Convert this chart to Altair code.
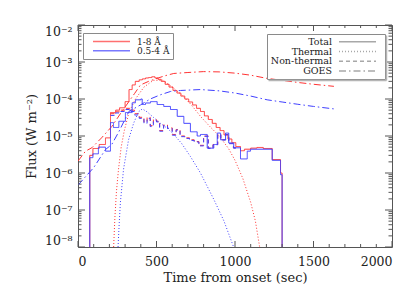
import altair as alt
import pandas as pd

# ---------------- data ----------------
red_total_t = [75, 75, 95, 135, 175, 207, 240, 265, 300, 325, 345, 365, 390, 410, 430, 450, 470, 490, 510,
               530, 555, 580, 605, 630, 655, 680, 705, 730, 755, 780, 805, 830, 855, 880, 905, 930, 955,
               980, 1005, 1035, 1060, 1100, 1140, 1180, 1237, 1290, 1300]
red_total_f = [1e-8, 3.0e-6, 4.6e-6, 5.9e-6, 8.9e-6, 4.3e-5, 5.0e-5, 5.8e-5, 8.5e-5, 1.8e-4, 2.4e-4, 3.0e-4,
               3.3e-4, 3.5e-4, 3.7e-4, 3.8e-4, 4.0e-4, 3.7e-4, 3.4e-4, 3.0e-4, 2.5e-4, 2.1e-4, 1.7e-4,
               1.45e-4, 1.2e-4, 1.0e-4, 8.3e-5, 6.9e-5, 5.6e-5, 4.6e-5, 3.5e-5, 2.8e-5, 2.2e-5, 1.7e-5,
               1.4e-5, 1.07e-5, 8.3e-6, 6.6e-6, 5.2e-6, 4.0e-6, 4.4e-6, 4.7e-6, 4.9e-6, 4.6e-6, 2.3e-6,
               1.0e-6, 1e-8]

blue_total_t = [75, 75, 95, 130, 175, 207, 226, 260, 302, 345, 366, 400, 409, 430, 462, 504, 546, 589, 632,
                674, 716, 759, 780, 823, 865, 887, 908, 940, 960, 992, 1035, 1078, 1099, 1237, 1290, 1300]
blue_total_f = [1e-8, 2.6e-6, 3.3e-6, 5.0e-6, 3.9e-6, 2.3e-5, 1.7e-5, 2.5e-5, 4.3e-5, 7.9e-5, 9.5e-5, 1.0e-4,
                7.1e-5, 7.8e-5, 8.5e-5, 7.1e-5, 6.3e-5, 5.2e-5, 3.4e-5, 2.2e-5, 1.3e-5, 1.0e-5, 1.1e-5,
                4.7e-6, 5.9e-6, 1.2e-5, 7.9e-6, 1.2e-5, 6.5e-6, 4.8e-6, 2.4e-6, 3.9e-6, 4.4e-6, 2.2e-6,
                9.0e-7, 1e-8]

nt_t = [207, 240, 270, 300, 330, 360, 390, 420, 440, 460, 480, 500, 520, 545, 570, 600, 625, 650, 680,
        710, 740, 770, 800, 830, 860, 890, 910, 940, 960, 990, 1010]
red_nt_f = [4.0e-5, 4.5e-5, 5.0e-5, 5.6e-5, 5.0e-5, 4.0e-5, 3.2e-5, 2.4e-5, 3.2e-5, 1.9e-5, 2.8e-5, 2.5e-5,
            1.4e-5, 2.0e-5, 1.66e-5, 1.1e-5, 1.5e-5, 1.0e-5, 8.9e-6, 7.9e-6, 7.1e-6, 5.6e-6, 1.0e-5,
            4.7e-6, 5.9e-6, 1.1e-5, 7.9e-6, 1.1e-5, 6.3e-6, 4.8e-6, 4.8e-6]
blue_nt_f = [3.6e-5, 4.2e-5, 4.6e-5, 5.2e-5, 4.6e-5, 3.7e-5, 3.0e-5, 2.2e-5, 3.0e-5, 1.8e-5, 2.6e-5, 2.4e-5,
             1.35e-5, 1.9e-5, 1.6e-5, 1.05e-5, 1.45e-5, 9.6e-6, 8.6e-6, 7.6e-6, 6.9e-6, 5.4e-6, 9.8e-6,
             4.6e-6, 5.8e-6, 1.08e-5, 7.8e-6, 1.08e-5, 6.2e-6, 4.7e-6, 4.7e-6]

red_th_t = [227, 235, 245, 258, 275, 295, 324, 366, 420, 480, 540, 600, 660, 720, 780, 840, 900, 960,
            1000, 1050, 1100, 1130, 1157]
red_th_f = [1e-8, 6.3e-8, 3.2e-7, 1.26e-6, 5.0e-6, 1.4e-5, 4.3e-5, 1.0e-4, 2.1e-4, 3.2e-4, 3.2e-4, 2.1e-4,
            1.3e-4, 7.1e-5, 3.4e-5, 1.8e-5, 1.0e-5, 4.5e-6, 2.2e-6, 7.1e-7, 1.6e-7, 5.0e-8, 1e-8]

blue_th_t = [255, 262, 270, 290, 322, 354, 385, 410, 440, 480, 525, 570, 610, 660, 716, 780, 866, 930, 991]
blue_th_f = [1e-8, 4.0e-8, 1.6e-7, 1.26e-6, 7.9e-6, 2.2e-5, 4.5e-5, 5.4e-5, 4.5e-5, 3.2e-5, 2.2e-5, 1.6e-5,
             1.1e-5, 6.3e-6, 2.8e-6, 1.0e-6, 1.9e-7, 5.0e-8, 1e-8]

red_goes_t = [0, 48, 88, 150, 215, 270, 324, 360, 398, 450, 494, 550, 610, 700, 800, 900, 1000, 1100,
              1205, 1300, 1400, 1500, 1630]
red_goes_f = [2.1e-6, 3.9e-6, 4.8e-6, 8.9e-6, 1.8e-5, 4.0e-5, 8.5e-5, 1.4e-4, 2.4e-4, 3.0e-4, 3.5e-4,
              4.2e-4, 4.9e-4, 5.2e-4, 5.5e-4, 5.4e-4, 5.0e-4, 4.4e-4, 3.6e-4, 3.2e-4, 2.8e-4, 2.5e-4, 2.2e-4]

blue_goes_t = [0, 100, 175, 215, 260, 324, 398, 460, 525, 590, 653, 780, 900, 1000, 1100, 1205, 1300,
               1400, 1500, 1630]
blue_goes_f = [4.7e-7, 1.4e-6, 4.3e-6, 5.9e-6, 1.3e-5, 4.6e-5, 6.9e-5, 1.0e-4, 1.3e-4, 1.6e-4, 1.7e-4,
               1.8e-4, 1.66e-4, 1.45e-4, 1.2e-4, 9.5e-5, 8.3e-5, 7.2e-5, 6.3e-5, 5.4e-5]

bands = ["1-8 Å", "0.5-4 Å"]
band_colors = ["#ff3333", "#4040ff"]
components = ["Total", "Thermal", "Non-thermal", "GOES"]
dashes = [[1, 0], [1, 2], [4, 3], [7, 3, 1.5, 3]]

x_major = [0, 500, 1000, 1500, 2000]
x_minor = [100, 200, 300, 400, 600, 700, 800, 900, 1100, 1200, 1300, 1400, 1600, 1700, 1800, 1900]
y_major = [1e-8, 1e-7, 1e-6, 1e-5, 1e-4, 1e-3, 1e-2]
y_minor = [m * p for p in [1e-8, 1e-7, 1e-6, 1e-5, 1e-4, 1e-3] for m in [2, 3, 4, 5, 6, 7, 8, 9]]

# ---------------- table ----------------
series = [
    (bands[0], "Total", red_total_t, red_total_f),
    (bands[0], "Non-thermal", nt_t, red_nt_f),
    (bands[0], "Thermal", red_th_t, red_th_f),
    (bands[0], "GOES", red_goes_t, red_goes_f),
    (bands[1], "Total", blue_total_t, blue_total_f),
    (bands[1], "Non-thermal", nt_t, blue_nt_f),
    (bands[1], "Thermal", blue_th_t, blue_th_f),
    (bands[1], "GOES", blue_goes_t, blue_goes_f),
]
rows = []
for band, comp, ts, fs in series:
    for i, (t, f) in enumerate(zip(ts, fs)):
        rows.append({"band": band, "comp": comp, "t": t, "f": f, "i": i})
df = pd.DataFrame(rows)

W, H = 314, 222
FONT = "DejaVu Serif"

xs = alt.Scale(domain=[0, 2000], nice=False, zero=False)
ys = alt.Scale(type="log", domain=[1e-8, 1e-2], nice=False)
sup = "['⁰','¹','²','³','⁴','⁵','⁶','⁷','⁸','⁹']"
xaxis = alt.Axis(values=x_major, format="d", ticks=False, domain=False, grid=False, labelPadding=8,
                 title="Time from onset (sec)", titleY=24, titleBaseline="top")
yaxis = alt.Axis(values=y_major, ticks=False, domain=False, grid=False, labelPadding=6, labelFlush=True,
                 labelExpr="'10⁻' + " + sup + "[round(-log(datum.value)/LN10)]",
                 title="Flux (W m⁻²)", titleX=-40, titleY=H / 2, titleAngle=270, titleBaseline="bottom",
                 titleAlign="center")


def X(field):
    return alt.X(field, type="quantitative", scale=xs, axis=xaxis)


def Y(field):
    return alt.Y(field, type="quantitative", scale=ys, axis=yaxis)


color = alt.Color("band:N", scale=alt.Scale(domain=bands, range=band_colors), legend=None)
dash = alt.StrokeDash("comp:N", scale=alt.Scale(domain=components, range=dashes), legend=None)

layers = []
for band in bands:
    base = alt.Chart(df).transform_filter(alt.datum.band == band)
    layers.append(base.transform_filter(alt.FieldOneOfPredicate(field="comp", oneOf=["Thermal", "GOES"]))
                  .mark_line(clip=True, strokeWidth=1)
                  .encode(x=X("t"), y=Y("f"), color=color, strokeDash=dash, order="i:Q"))
    layers.append(base.transform_filter(alt.FieldOneOfPredicate(field="comp", oneOf=["Non-thermal", "Total"]))
                  .mark_line(clip=True, strokeWidth=1, interpolate="step-after")
                  .encode(x=X("t"), y=Y("f"), color=color, strokeDash=dash, order="i:Q"))

# ---------------- inward ticks ----------------
tick_col = "#555555"
xmaj = pd.DataFrame({"t": x_major})
xmin = pd.DataFrame({"t": x_minor})
ymaj = pd.DataFrame({"f": y_major})
ymin = pd.DataFrame({"f": y_minor})
for d, ln in [(xmaj, 6), (xmin, 3)]:
    layers.append(alt.Chart(d).mark_rule(color=tick_col, strokeWidth=1)
                  .encode(x=X("t"), y=alt.value(H), y2=alt.value(H - ln)))
    layers.append(alt.Chart(d).mark_rule(color=tick_col, strokeWidth=1)
                  .encode(x=X("t"), y=alt.value(0), y2=alt.value(ln)))
for d, ln in [(ymaj, 7), (ymin, 3.5)]:
    layers.append(alt.Chart(d).mark_rule(color=tick_col, strokeWidth=1)
                  .encode(y=Y("f"), x=alt.value(0), x2=alt.value(ln)))
    layers.append(alt.Chart(d).mark_rule(color=tick_col, strokeWidth=1)
                  .encode(y=Y("f"), x=alt.value(W), x2=alt.value(W - ln)))

# ---------------- legends ----------------
one = alt.Data(values=[{}])
box_col = "#8a8a8a"
# left legend (bands)
layers.append(alt.Chart(one).mark_rect(filled=False, stroke=box_col, strokeWidth=1)
              .encode(x=alt.value(5.5), x2=alt.value(95.5), y=alt.value(8.5), y2=alt.value(34.5)))
for k, (lab, col) in enumerate(zip(bands, band_colors)):
    yy = 16.5 + 9.3 * k
    layers.append(alt.Chart(one).mark_rule(color=col, strokeWidth=1.5, opacity=0.7)
                  .encode(x=alt.value(15), x2=alt.value(52), y=alt.value(yy)))
    layers.append(alt.Chart(one).mark_text(text=lab, align="left", baseline="middle", font=FONT,
                                           fontSize=9, color="#222222")
                  .encode(x=alt.value(59), y=alt.value(yy)))
# right legend (components)
layers.append(alt.Chart(one).mark_rect(filled=False, stroke=box_col, strokeWidth=1)
              .encode(x=alt.value(189.5), x2=alt.value(307.5), y=alt.value(9.5), y2=alt.value(54.5)))
layers.append(alt.Chart(one).mark_rule(color="#b5b5b5", strokeWidth=1.5)
              .encode(x=alt.value(190.5), x2=alt.value(308.5), y=alt.value(55.5)))
layers.append(alt.Chart(one).mark_rule(color="#b5b5b5", strokeWidth=1.5)
              .encode(x=alt.value(308.5), y=alt.value(10.5), y2=alt.value(55.5)))
for k, (lab, dsh) in enumerate(zip(components, dashes)):
    yy = 16.7 + 9.8 * k
    layers.append(alt.Chart(one).mark_rule(color="#a8a8a8", strokeWidth=1.5, strokeDash=dsh)
                  .encode(x=alt.value(261), x2=alt.value(298), y=alt.value(yy)))
    layers.append(alt.Chart(one).mark_text(text=lab, align="right", baseline="middle", font=FONT,
                                           fontSize=9.5, color="#222222")
                  .encode(x=alt.value(254), y=alt.value(yy)))

chart = alt.layer(*layers).properties(
    width=W, height=H,
    padding={"left": 70, "top": 17, "right": 15, "bottom": 50},
    autosize=alt.AutoSizeParams(type="none"),
    background="white",
).configure_view(stroke="#555555", strokeWidth=1).configure_axis(
    labelFont=FONT, labelFontSize=12.5, labelColor="#222222",
    titleFont=FONT, titleFontSize=13, titleColor="#222222", titleFontWeight="normal",
)

chart.save("out.html", embed_options={"renderer": "svg", "actions": False})
